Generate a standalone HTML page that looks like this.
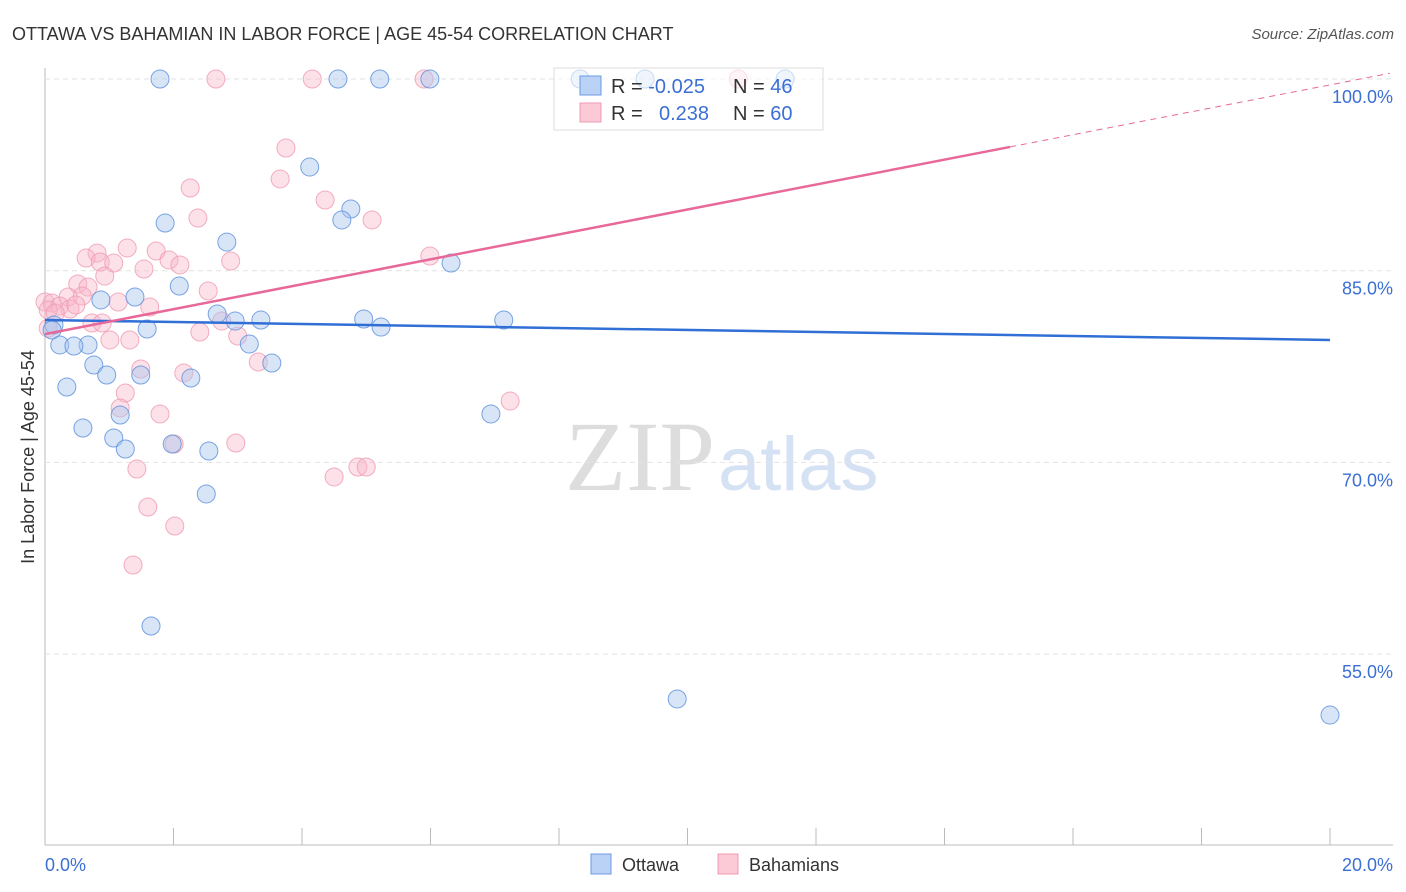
<!DOCTYPE html>
<html><head><meta charset="utf-8"><style>
body{margin:0;background:#fff;font-family:"Liberation Sans",sans-serif}
svg{display:block}
</style></head><body>
<svg id="c" width="1406" height="892">
<text x="12" y="40" font-size="18" fill="#333">OTTAWA VS BAHAMIAN IN LABOR FORCE | AGE 45-54 CORRELATION CHART</text>
<text x="1394" y="39" font-size="15" fill="#555" font-style="italic" text-anchor="end">Source: ZipAtlas.com</text>
<text x="715" y="490" font-size="100" fill="#ddd" text-anchor="end" font-family="Liberation Serif,serif">ZIP</text>
<text x="718" y="490" font-size="76" fill="#d5e2f3">atlas</text>
<text transform="translate(34,457) rotate(-90)" font-size="18" fill="#333" text-anchor="middle">In Labor Force | Age 45-54</text>
<g id="grid"></g><g id="pts"></g><g id="lines"></g>
<g>
<rect x="554" y="68" width="269" height="62" fill="#fff" fill-opacity="0.6" stroke="#ddd"/>
<rect x="580" y="76" width="21" height="19" fill="#b9d2f5" stroke="#6a9be0"/>
<rect x="580" y="103" width="21" height="19" fill="#fcc9d7" stroke="#f09ab3"/>
<text x="611" y="93" font-size="20" fill="#333">R = <tspan fill="#3b6fd4">-0.025</tspan></text>
<text x="733" y="93" font-size="20" fill="#333">N = <tspan fill="#3b6fd4">46</tspan></text>
<text x="611" y="120" font-size="20" fill="#333">R = <tspan fill="#3b6fd4" x="659">0.238</tspan></text>
<text x="733" y="120" font-size="20" fill="#333">N = <tspan fill="#3b6fd4">60</tspan></text>
</g>
<g>
<rect x="591" y="854" width="20" height="20" fill="#b9d2f5" stroke="#6a9be0"/>
<text x="622" y="871" font-size="18" fill="#333">Ottawa</text>
<rect x="718" y="854" width="20" height="20" fill="#fcc9d7" stroke="#f09ab3"/>
<text x="749" y="871" font-size="18" fill="#333">Bahamians</text>
</g>
<text x="45" y="871" font-size="18" fill="#3b6fd4">0.0%</text>
<text x="1393" y="871" font-size="18" fill="#3b6fd4" text-anchor="end">20.0%</text>
</svg>
<script>
const yTicks=[100,85,70,55];
const yTickLabels=["100.0%","85.0%","70.0%","55.0%"];
const ottawaX=[1.79,4.56,5.21,5.99,8.33,9.34,11.52,4.12,4.76,4.62,1.87,2.83,6.32,2.09,1.40,0.87,2.68,2.96,3.36,4.96,5.23,7.14,1.59,0.14,0.11,0.23,0.67,0.45,3.18,3.53,0.76,0.96,1.49,2.27,0.34,1.17,6.94,0.59,1.07,1.98,1.25,2.55,2.51,1.65,9.84,20.0];
const ottawaY=[100,100,100,100,100,100,100,93.11,89.83,88.97,88.73,87.24,85.60,83.80,82.94,82.71,81.61,81.06,81.14,81.22,80.59,81.14,80.44,80.75,80.36,79.19,79.19,79.11,79.26,77.78,77.62,76.84,76.84,76.60,75.90,73.71,73.79,72.69,71.91,71.44,71.05,70.89,67.53,57.20,51.49,50.23];
const bahX=[2.66,4.16,5.90,10.79,3.75,3.66,2.26,4.36,2.38,5.09,1.28,1.73,0.81,0.64,0.86,1.07,1.93,2.10,2.89,5.99,1.54,0.93,0.51,0.67,2.54,0.36,0.58,1.14,1.63,0,0.11,0.23,0.39,0.48,0.05,0.16,0.73,0.89,2.75,2.41,3.00,1.32,1.01,3.32,1.49,2.16,1.25,7.24,1.17,1.79,2.01,2.97,1.43,4.50,4.87,5.00,1.60,2.02,1.37,0.05];
const bahY=[100,100,100,100,94.60,92.18,91.47,90.53,89.12,88.97,86.78,86.54,86.38,85.99,85.68,85.60,85.84,85.45,85.76,86.15,85.13,84.58,83.96,83.72,83.41,82.94,83.02,82.55,82.16,82.55,82.47,82.24,82.00,82.32,81.92,81.69,80.91,80.91,81.06,80.20,79.89,79.58,79.58,77.86,77.31,77.00,75.43,74.80,74.26,73.79,71.44,71.52,69.48,68.86,69.64,69.64,66.51,65.02,61.97,80.5];
const ottawaFit=[81.14,79.58];
const bahFit=[80.04,0.975];
const NS="http://www.w3.org/2000/svg";
const sx=v=>45+v/20*1285;
const sy=v=>79+(100-v)*12.78;
function mk(t,a,p){const e=document.createElementNS(NS,t);for(const k in a)e.setAttribute(k,a[k]);p.appendChild(e);return e;}
const grid=document.getElementById('grid');
let ax=mk('line',{x1:45,y1:68,x2:45,y2:845,stroke:'#bbb'},grid);


let bx=mk('line',{x1:45,y1:845,x2:1393,y2:845,stroke:'#bbb'},grid);


for(let i=1;i<=10;i++){let t=mk('line',{x1:sx(i*2),x2:sx(i*2),y1:828,y2:845,stroke:'#bbb'},grid);

}
yTicks.forEach((v,i)=>{let g=mk('line',{x1:45,x2:1393,y1:sy(v),y2:sy(v),stroke:'#e2e2e2','stroke-dasharray':'5,4'},grid);


let t=mk('text',{x:1393,y:sy(v)+24,'font-size':18,fill:'#3b6fd4','text-anchor':'end'},grid);t.textContent=yTickLabels[i];

});
const pts=document.getElementById('pts');
bahX.forEach((x,i)=>{let c=mk('circle',{cx:sx(x),cy:sy(bahY[i]),r:9,fill:'#f7b3c8','fill-opacity':0.4,stroke:'#f09ab3','stroke-opacity':0.8},pts);

});
ottawaX.forEach((x,i)=>{let c=mk('circle',{cx:sx(x),cy:sy(ottawaY[i]),r:9,fill:'#a9c6ee','fill-opacity':0.45,stroke:'#5a8fdc','stroke-opacity':0.8},pts);

});
const L=document.getElementById('lines');
let l1=mk('line',{x1:sx(0),y1:sy(ottawaFit[0]),x2:sx(20),y2:sy(ottawaFit[1]),stroke:'#2f6fd6','stroke-width':2.5},L);


const bf=x=>bahFit[0]+bahFit[1]*x;
let l2=mk('line',{x1:sx(0),y1:sy(bf(0)),x2:sx(15.02),y2:sy(bf(15.02)),stroke:'#e8689a','stroke-width':2.5},L);


let l3=mk('line',{x1:sx(15.02),y1:sy(bf(15.02)),x2:sx(20.93),y2:sy(bf(20.93)),stroke:'#e8689a','stroke-width':1,'stroke-dasharray':'6,5'},L);


</script>
</body></html>
